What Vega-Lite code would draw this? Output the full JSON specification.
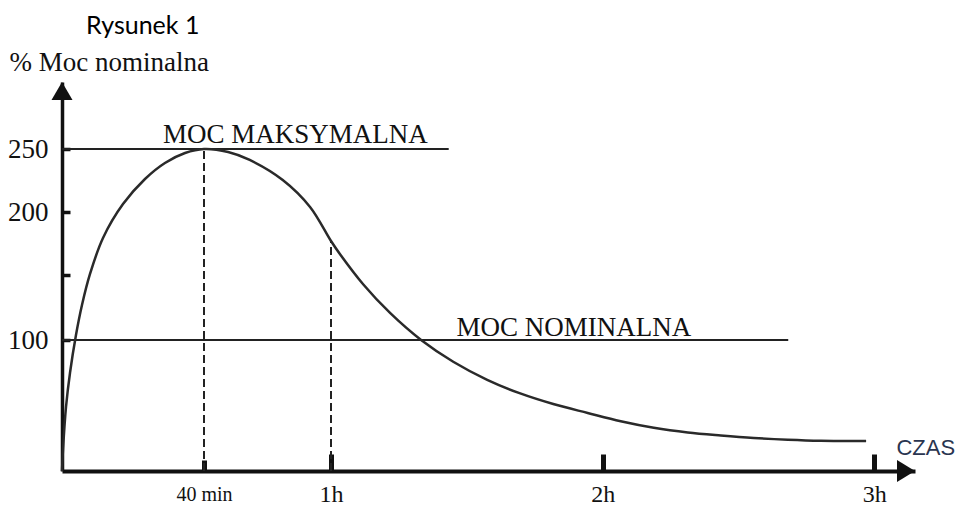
{
  "$schema": "https://vega.github.io/schema/vega-lite/v6.json",
  "width": 853,
  "height": 389,
  "autosize": {"type": "none"},
  "padding": {"left": 62, "top": 82, "right": 46, "bottom": 35},
  "background": "white",
  "config": {"view": {"stroke": null}, "axis": {"grid": false}},
  "title": {"text": "Rysunek 1", "anchor": "start", "frame": "group", "dx": 24, "offset": 9, "font": "Lato", "fontSize": 25, "fontWeight": "normal", "color": "#000"},
  "datasets": {
    "curve": [
      {"t": 0, "v": 0}, {"t": 0.28, "v": 16}, {"t": 1.13, "v": 48.9}, {"t": 2.25, "v": 74.8},
      {"t": 3.94, "v": 103.8}, {"t": 5.63, "v": 126.9}, {"t": 7.89, "v": 150.8}, {"t": 11.55, "v": 179.4},
      {"t": 17.18, "v": 206.3}, {"t": 23.38, "v": 226.2}, {"t": 29.0, "v": 238.9}, {"t": 34.65, "v": 246.8},
      {"t": 40, "v": 250}, {"t": 43.8, "v": 247.6}, {"t": 47.2, "v": 241.3}, {"t": 52.4, "v": 225.4}, {"t": 56.7, "v": 204},
      {"t": 60, "v": 177}, {"t": 62.0, "v": 166.5}, {"t": 67.1, "v": 142.9}, {"t": 73.1, "v": 120.6},
      {"t": 79.9, "v": 100}, {"t": 87.0, "v": 83.4}, {"t": 94.5, "v": 69.6}, {"t": 101.8, "v": 59.2},
      {"t": 109.1, "v": 51.1}, {"t": 116.7, "v": 44.3}, {"t": 124.0, "v": 38.0}, {"t": 131.3, "v": 33.0},
      {"t": 138.8, "v": 29.4}, {"t": 146.1, "v": 27.1}, {"t": 153.4, "v": 25.2}, {"t": 160.9, "v": 23.9},
      {"t": 168.2, "v": 23.1}, {"t": 178.2, "v": 22.9}
    ],
    "hlines": [{"t": 0, "t2": 86, "v": 250}, {"t": 0, "t2": 161, "v": 100}],
    "dashes": [{"t": 40, "v": 0, "v2": 250}, {"t": 60, "v": 0, "v2": 177}],
    "labels": [{"t": 28.45, "v": 254.7, "label": "MOC MAKSYMALNA"}, {"t": 87.7, "v": 103, "label": "MOC NOMINALNA"}],
    "czas": [{"t": 184.9, "v": 12.2, "label": "CZAS"}],
    "arrowUp": [{"t": 0, "v": 303}],
    "arrowRight": [{"t": 189, "v": 0}]
  },
  "encoding": {
    "x": {
      "field": "t", "type": "quantitative",
      "scale": {"domain": [0, 40, 60, 189], "range": [0, 142, 269, 853], "nice": false, "zero": false},
      "axis": {
        "values": [40, 60, 120, 180],
        "labelExpr": "datum.value == 40 ? '40 min' : (datum.value / 60) + 'h'",
        "title": null,
        "domainColor": "#111", "domainWidth": 4,
        "tickColor": "#111", "tickWidth": 5,
        "tickSize": {"condition": {"test": "datum.value == 40", "value": -11}, "value": -17},
        "labelPadding": {"condition": {"test": "datum.value == 40", "value": 24}, "value": 28},
        "labelFont": "Liberation Serif",
        "labelFontSize": {"condition": {"test": "datum.value == 40", "value": 20}, "value": 24},
        "labelColor": "#111", "labelAngle": 0, "labelFlush": false, "labelOverlap": false
      }
    },
    "y": {
      "field": "v", "type": "quantitative",
      "scale": {"domain": [0, 100, 150, 200, 250, 303], "range": [389, 258, 193, 130, 67, 0], "nice": false, "zero": false},
      "axis": {
        "values": [100, 150, 200, 250],
        "labelExpr": "datum.value == 150 ? '' : datum.label",
        "title": "% Moc nominalna", "titleAngle": 0, "titleAlign": "left", "titleBaseline": "alphabetic",
        "titleX": -53, "titleY": -12, "titleFont": "Liberation Serif", "titleFontSize": 27,
        "titleFontWeight": "normal", "titleColor": "#111",
        "domainColor": "#111", "domainWidth": 3.5,
        "tickColor": "#111", "tickWidth": 3.5, "tickSize": -8,
        "labelPadding": 22, "labelFont": "Liberation Serif", "labelFontSize": 27,
        "labelColor": "#111", "labelOverlap": false, "labelFlush": false
      }
    }
  },
  "layer": [
    {
      "data": {"name": "hlines"},
      "mark": {"type": "rule", "color": "#222", "strokeWidth": 2},
      "encoding": {"x2": {"field": "t2"}}
    },
    {
      "data": {"name": "dashes"},
      "mark": {"type": "rule", "color": "#222", "strokeWidth": 2, "strokeDash": [8, 4]},
      "encoding": {"y2": {"field": "v2"}}
    },
    {
      "data": {"name": "curve"},
      "mark": {"type": "line", "color": "#2a2a2a", "strokeWidth": 2.5, "interpolate": "catmull-rom"},
      "encoding": {}
    },
    {
      "data": {"name": "labels"},
      "mark": {"type": "text", "align": "left", "baseline": "alphabetic", "font": "Liberation Serif", "fontSize": 27, "color": "#111"},
      "encoding": {"text": {"field": "label"}}
    },
    {
      "data": {"name": "czas"},
      "mark": {"type": "text", "align": "left", "baseline": "alphabetic", "font": "Liberation Sans", "fontSize": 22, "color": "#2a3550"},
      "encoding": {"text": {"field": "label"}}
    },
    {
      "data": {"name": "arrowUp"},
      "mark": {"type": "point", "shape": "M0,0 L0.525,0.9 L-0.525,0.9 Z", "size": 1600, "filled": true, "color": "#111", "opacity": 1},
      "encoding": {}
    },
    {
      "data": {"name": "arrowRight"},
      "mark": {"type": "point", "shape": "M0,0 L-0.9,-0.55 L-0.9,0.55 Z", "size": 1600, "filled": true, "color": "#111", "opacity": 1},
      "encoding": {}
    }
  ]
}
